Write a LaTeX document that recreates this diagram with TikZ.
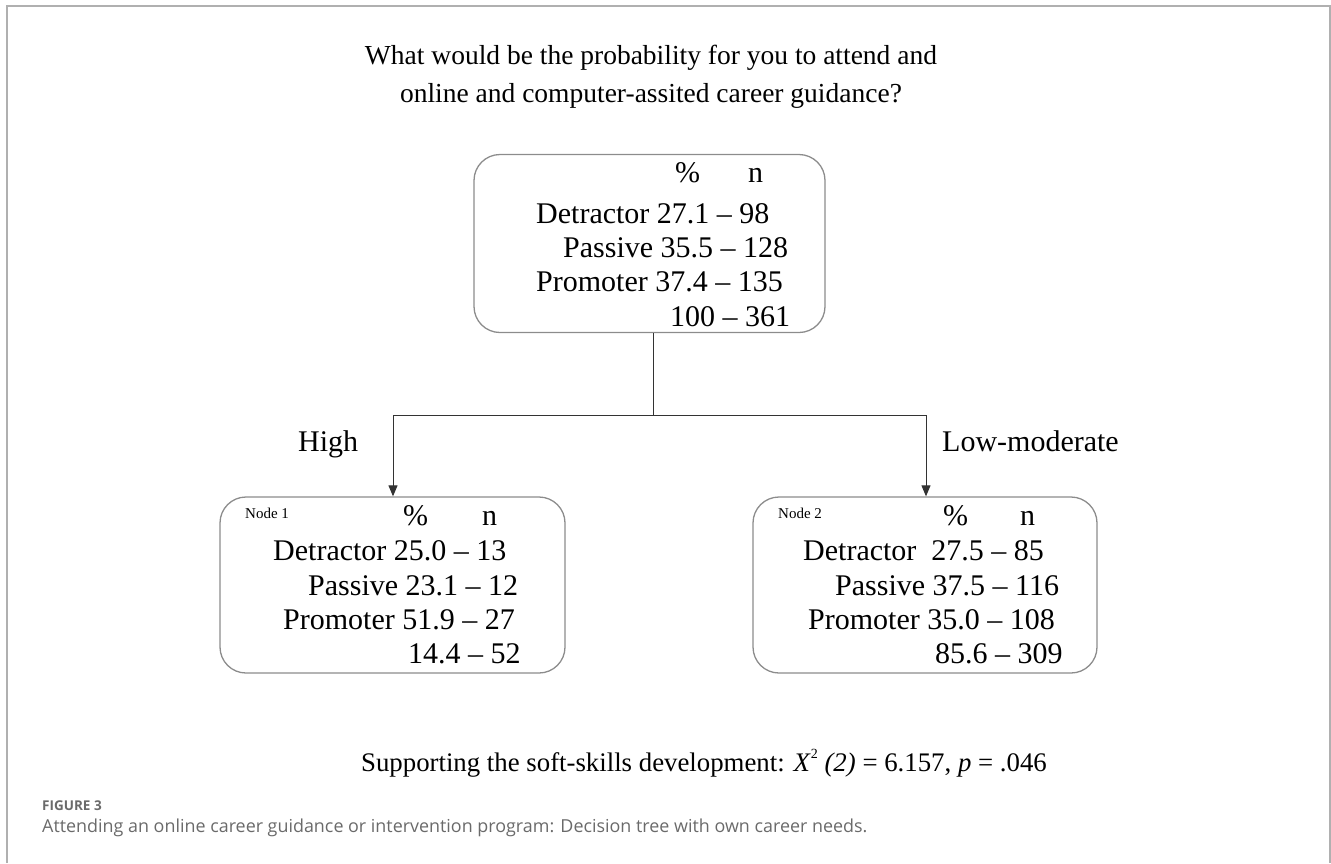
\documentclass[tikz,border=0pt]{standalone}
\usepackage{fontspec}
\setmainfont{Liberation Serif}
\newfontfamily\capfont{Open Sans}
\usetikzlibrary{arrows.meta}
\definecolor{framegray}{HTML}{B0B0B0}
\definecolor{boxgray}{HTML}{8C8C8C}
\definecolor{linedark}{HTML}{333333}
\definecolor{capgray}{HTML}{6A6A6A}
\tikzset{
  treebox/.style={draw=boxgray, line width=1.3pt, rounded corners=26pt},
  conn/.style={draw=linedark, line width=1pt},
  arr/.style={conn, -{Triangle[length=11pt,width=9pt]}},
  bigtxt/.style={inner sep=0pt, anchor=base west, font=\fontsize{30}{34}\selectfont},
  hdtxt/.style={inner sep=0pt, anchor=base west, font=\fontsize{30}{34}\selectfont},
  smalltxt/.style={inner sep=0pt, anchor=base west, font=\fontsize{15}{17}\selectfont},
  titletxt/.style={inner sep=0pt, anchor=base, font=\fontsize{27.5}{32}\selectfont},
}
\begin{document}
\begin{tikzpicture}[x=1pt,y=-1pt]
\useasboundingbox (0,0) rectangle (1331,863);
% outer frame (open at bottom)
\draw[framegray, line width=2pt] (7,863) -- (7,6) -- (1330,6) -- (1330,863);
% title
\node[titletxt] (t1) at (651,64) {What would be the probability for you to attend and};
\node[titletxt] (t2) at (651,102) {online and computer-assited career guidance?};
% top box
\node[treebox, minimum width=351pt, minimum height=178pt] (root) at (649.5,243.5) {};
\node[hdtxt] (r0a) at (675,182) {\%};
\node[hdtxt] (r0b) at (748,182) {n};
\node[bigtxt] (r1) at (536,223) {Detractor 27.1 -- 98};
\node[bigtxt] (r2) at (563,257) {Passive 35.5 -- 128};
\node[bigtxt] (r3) at (536,291) {Promoter 37.4 -- 135};
\node[bigtxt] (r4) at (670,326) {100 -- 361};
% node 1
\node[treebox, minimum width=345pt, minimum height=176pt] (n1) at (392.5,585) {};
\node[smalltxt] (n1l) at (245,518) {Node 1};
\node[hdtxt] (n1a) at (403,525) {\%};
\node[hdtxt] (n1b) at (482,525) {n};
\node[bigtxt] (n1r1) at (273,560) {Detractor 25.0 -- 13};
\node[bigtxt] (n1r2) at (308,595) {Passive 23.1 -- 12};
\node[bigtxt] (n1r3) at (283,629) {Promoter 51.9 -- 27};
\node[bigtxt] (n1r4) at (408,663) {14.4 -- 52};
% node 2
\node[treebox, minimum width=344pt, minimum height=176pt] (n2) at (925,585) {};
\node[smalltxt] (n2l) at (778,518) {Node 2};
\node[hdtxt] (n2a) at (943,525) {\%};
\node[hdtxt] (n2b) at (1020,525) {n};
\node[bigtxt] (n2r1) at (803,560) {Detractor\ \ 27.5 -- 85};
\node[bigtxt] (n2r2) at (835,595) {Passive 37.5 -- 116};
\node[bigtxt] (n2r3) at (808,629) {Promoter 35.0 -- 108};
\node[bigtxt] (n2r4) at (935,663) {85.6 -- 309};
% connectors
\coordinate (j) at (653,415);
\coordinate (jl) at (393,415);
\coordinate (jr) at (926,415);
\draw[conn] (root.south -| j) -- (j);
\draw[conn] (jl) -- (jr);
\draw[arr] (jl) -- (jl |- n1.north);
\draw[arr] (jr) -- (jr |- n2.north);
% branch labels
\node[bigtxt] (hi) at (298,451) {High};
\node[bigtxt] (lo) at (942,451) {Low-moderate};
% statistic
\node[inner sep=0pt, anchor=base, font=\fontsize{26.8}{32}\selectfont] (stat) at (704,771) {Supporting the soft-skills development: \textit{X}\raisebox{0.45em}{\fontsize{14}{16}\selectfont 2} \textit{(2)} = 6.157, \textit{p} = .046};
% caption
\node[inner sep=0pt, anchor=base west, text=capgray, font=\capfont\bfseries\fontsize{13.5}{16}\selectfont] (fig) at (42,810) {FIGURE 3};
\node[inner sep=0pt, anchor=base west, text=capgray, font=\capfont\fontsize{17.9}{21}\selectfont] (cap) at (42,832) {Attending an online career guidance or intervention program: Decision tree with own career needs.};
\end{tikzpicture}
\end{document}
